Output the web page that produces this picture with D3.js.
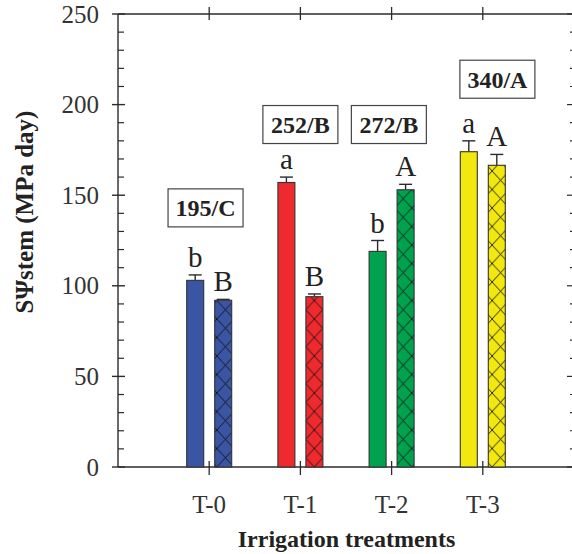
<!DOCTYPE html>
<html>
<head>
<meta charset="utf-8">
<script src="https://cdnjs.cloudflare.com/ajax/libs/d3/7.8.5/d3.min.js"></script>
<style>
  body { margin: 0; background: #fff; }
  svg { display: block; }
</style>
</head>
<body>
<div id="chart"></div>
<script>
// data
var treatments = ['T-0', 'T-1', 'T-2', 'T-3'];
var solidValues = [103, 157, 119, 174];
var solidErrors = [3, 3, 6, 6];
var hatchValues = [92, 94, 153, 166.5];
var hatchErrors = [0.5, 1.5, 3, 6];
var solidLetters = ['b', 'a', 'b', 'a'];
var hatchLetters = ['B', 'B', 'A', 'A'];
var totals = ['195/C', '252/B', '272/B', '340/A'];
// where the total boxes sit, in data units (category index, y value)
var totalAtX = [-0.04, 1.0, 1.97, 3.16];
var totalAtY = [143, 189, 189, 214];
var yTicks = [0, 50, 100, 150, 200, 250];
var yMinorTicks = d3.range(0, 251, 10);

var colors = ['#3a55a4', '#ee2a2e', '#00a24e', '#f2e80e'];
var ink = '#2b2b2b';
var serif = '"Liberation Serif", "DejaVu Serif", serif';

var width = 572, height = 554;

var svg = d3
.select('#chart')
.append('svg')
.attr('width', width)
.attr('height', height)
.style('font-family', serif)
;

var x = d3.scaleLinear().domain([-1, 4]).range([118, 574]);
var y = d3.scaleLinear().domain([0, 250]).range([467, 14]);

var barW = 17, barOff = 14;

// hatch patterns, one per bar so the X's line up with the bar edges
var defs = svg.append('defs');
treatments.forEach(function(t, i){
    var px = x(i) + barOff - barW/2;
    var p = defs.append('pattern')
    .attr('id', 'hatch' + i)
    .attr('patternUnits', 'userSpaceOnUse')
    .attr('x', px)
    .attr('y', y(0))
    .attr('width', barW)
    .attr('height', 18.5)
    ;
    p.append('rect').attr('width', barW).attr('height', 18.5).attr('fill', colors[i]);
    p.append('path')
    .attr('d', 'M0,0L' + barW + ',18.5M' + barW + ',0L0,18.5')
    .attr('stroke', '#111')
    .attr('stroke-width', 0.9)
    .attr('fill', 'none')
    ;
});

// frame lines
svg.append('line').attr('x1', x(-1)).attr('x2', x(4)).attr('y1', y(250)).attr('y2', y(250))
.attr('stroke', ink).attr('stroke-width', 1.4);
svg.append('line').attr('x1', x(-1)).attr('x2', x(4)).attr('y1', y(0)).attr('y2', y(0))
.attr('stroke', ink).attr('stroke-width', 1.4);
svg.append('line').attr('x1', x(-1)).attr('x2', x(-1)).attr('y1', y(0)).attr('y2', y(250))
.attr('stroke', ink).attr('stroke-width', 1.4);

// left axis ticks (major cross, minor inside)
svg.selectAll('line.yminor')
.data(yMinorTicks.filter(function(d){ return d % 50 != 0; }))
.enter()
.append('line')
.attr('class', 'yminor')
.attr('x1', x(-1)).attr('x2', x(-1) + 6)
.attr('y1', function(d){ return y(d); }).attr('y2', function(d){ return y(d); })
.attr('stroke', ink).attr('stroke-width', 1.2)
;
svg.selectAll('line.ymajor')
.data(yTicks)
.enter()
.append('line')
.attr('class', 'ymajor')
.attr('x1', x(-1) - 6).attr('x2', x(-1) + 7)
.attr('y1', function(d){ return y(d); }).attr('y2', function(d){ return y(d); })
.attr('stroke', ink).attr('stroke-width', 1.4)
;
svg.selectAll('text.ylab')
.data(yTicks)
.enter()
.append('text')
.attr('class', 'ylab')
.attr('x', x(-1) - 19)
.attr('y', function(d){ return y(d) + 8.5; })
.attr('text-anchor', 'end')
.attr('font-size', 25)
.attr('fill', '#333')
.text(function(d){ return d; })
;

// right axis ticks, pointing in
svg.selectAll('line.rminor')
.data(yMinorTicks)
.enter()
.append('line')
.attr('class', 'rminor')
.attr('x1', x(4)).attr('x2', function(d){ return d % 50 == 0 ? x(4) - 7 : x(4) - 4; })
.attr('y1', function(d){ return y(d); }).attr('y2', function(d){ return y(d); })
.attr('stroke', ink).attr('stroke-width', 1.2)
;

// category ticks top and bottom
svg.selectAll('line.xtick')
.data(treatments)
.enter()
.append('line')
.attr('class', 'xtick')
.attr('x1', function(d, i){ return x(i); }).attr('x2', function(d, i){ return x(i); })
.attr('y1', y(0) - 6).attr('y2', y(0) + 8)
.attr('stroke', ink).attr('stroke-width', 1.3)
;
svg.selectAll('line.xtop')
.data(treatments)
.enter()
.append('line')
.attr('class', 'xtop')
.attr('x1', function(d, i){ return x(i); }).attr('x2', function(d, i){ return x(i); })
.attr('y1', y(250) - 7).attr('y2', y(250) + 6)
.attr('stroke', ink).attr('stroke-width', 1.3)
;
svg.selectAll('text.xlab')
.data(treatments)
.enter()
.append('text')
.attr('class', 'xlab')
.attr('x', function(d, i){ return x(i); })
.attr('y', 513)
.attr('text-anchor', 'middle')
.attr('font-size', 25)
.attr('fill', '#333')
.text(function(d){ return d; })
;

// bars
function drawSeries(vals, errs, letters, off, fillFn, cls){
    var g = svg.selectAll('g.' + cls)
    .data(vals)
    .enter()
    .append('g')
    .attr('class', cls)
    .attr('transform', function(d, i){ return 'translate(' + (x(i) + off) + ',0)'; })
    ;
    g.append('line')
    .attr('x1', 0).attr('x2', 0)
    .attr('y1', function(d){ return y(d); })
    .attr('y2', function(d, i){ return y(d + errs[i]); })
    .attr('stroke', ink).attr('stroke-width', 1.4)
    ;
    g.append('line')
    .attr('x1', -6.5).attr('x2', 6.5)
    .attr('y1', function(d, i){ return y(d + errs[i]); })
    .attr('y2', function(d, i){ return y(d + errs[i]); })
    .attr('stroke', ink).attr('stroke-width', 1.4)
    ;
    g.append('rect')
    .attr('x', -barW/2)
    .attr('width', barW)
    .attr('y', function(d){ return y(d); })
    .attr('height', function(d){ return y(0) - y(d); })
    .attr('fill', fillFn)
    .attr('stroke', '#333')
    .attr('stroke-width', 1.1)
    ;
    g.append('text')
    .attr('x', 0)
    .attr('y', function(d, i){ return y(d + errs[i]) - 8; })
    .attr('text-anchor', 'middle')
    .attr('font-size', 29)
    .attr('fill', '#222')
    .text(function(d, i){ return letters[i]; })
    ;
}
drawSeries(solidValues, solidErrors, solidLetters, -barOff, function(d, i){ return colors[i]; }, 'solid');
drawSeries(hatchValues, hatchErrors, hatchLetters, barOff, function(d, i){ return 'url(#hatch' + i + ')'; }, 'hatch');

// total boxes
var boxes = svg.selectAll('g.total')
.data(totals)
.enter()
.append('g')
.attr('class', 'total')
.attr('transform', function(d, i){ return 'translate(' + x(totalAtX[i]) + ',' + y(totalAtY[i]) + ')'; })
;
boxes.append('rect')
.attr('x', -37.5).attr('y', -19)
.attr('width', 75).attr('height', 38)
.attr('fill', '#fff')
.attr('stroke', '#444')
.attr('stroke-width', 1.2)
;
boxes.append('text')
.attr('x', 0).attr('y', 8.5)
.attr('text-anchor', 'middle')
.attr('font-size', 24)
.attr('font-weight', 'bold')
.attr('fill', '#222')
.text(function(d){ return d; })
;

// axis titles
svg.append('text')
.attr('transform', 'translate(33,212) rotate(-90)')
.attr('text-anchor', 'middle')
.attr('font-size', 25)
.attr('font-weight', 'bold')
.attr('fill', '#222')
.text('SΨstem (MPa day)')
;
svg.append('text')
.attr('x', 346.5)
.attr('y', 547)
.attr('text-anchor', 'middle')
.attr('font-size', 24)
.attr('font-weight', 'bold')
.attr('fill', '#222')
.text('Irrigation treatments')
;
</script>
</body>
</html>
